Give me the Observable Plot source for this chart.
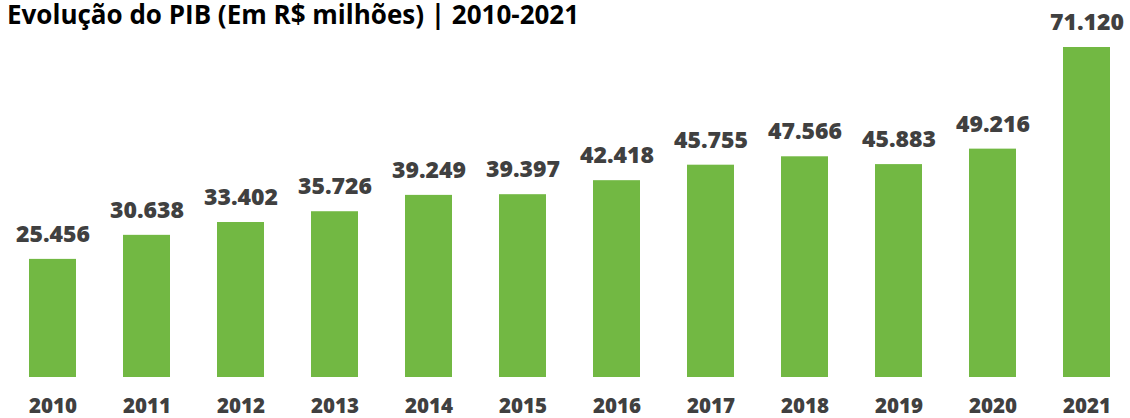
<!DOCTYPE html>
<html>
<head>
<meta charset="utf-8">
<script src="https://cdn.jsdelivr.net/npm/d3@7"></script>
<script src="https://cdn.jsdelivr.net/npm/@observablehq/plot@0.6"></script>
<style>
  html, body { margin: 0; padding: 0; background: #fff; }
  #wrap { position: relative; width: 1130px; height: 418px; }
  #title { position: absolute; left: 7px; top: 0; line-height: 28px; font-family: "Open Sans", sans-serif; font-weight: 700; font-size: 26px; color: #000; white-space: nowrap; }
</style>
</head>
<body>
<div id="wrap">
  <div id="title">Evolução do PIB (Em R$ milhões) | 2010-2021</div>
  <div id="chart"></div>
</div>
<script>
const years = ["2010","2011","2012","2013","2014","2015","2016","2017","2018","2019","2020","2021"];
const pib = [25456, 30638, 33402, 35726, 39249, 39397, 42418, 45755, 47566, 45883, 49216, 71120];

const data = years.map((year, i) => ({year, value: pib[i]}));
const fmt = d3.formatLocale({decimal: ",", thousands: ".", grouping: [3], currency: ["R$", ""]}).format(",d");

const chart = Plot.plot({
  width: 1130,
  height: 418,
  marginTop: 47,
  marginBottom: 41,
  marginLeft: 9,
  marginRight: 0,
  style: {fontFamily: "'Open Sans', sans-serif", background: "#fff"},
  x: {domain: years, paddingInner: 0.5, paddingOuter: 0.2, axis: null},
  y: {domain: [0, 71120], axis: null},
  marks: [
    Plot.barY(data, {x: "year", y: "value", fill: "#72b843"}),
    Plot.text(data, {x: "year", y: "value", text: d => fmt(d.value), dy: -25, fontSize: 23, fontWeight: 800, fill: "#404040"}),
    Plot.text(data, {x: "year", y: 0, text: "year", dy: 29, fontSize: 20.5, fontWeight: 800, fill: "#404040"})
  ]
});
document.getElementById("chart").appendChild(chart);
</script>
</body>
</html>
